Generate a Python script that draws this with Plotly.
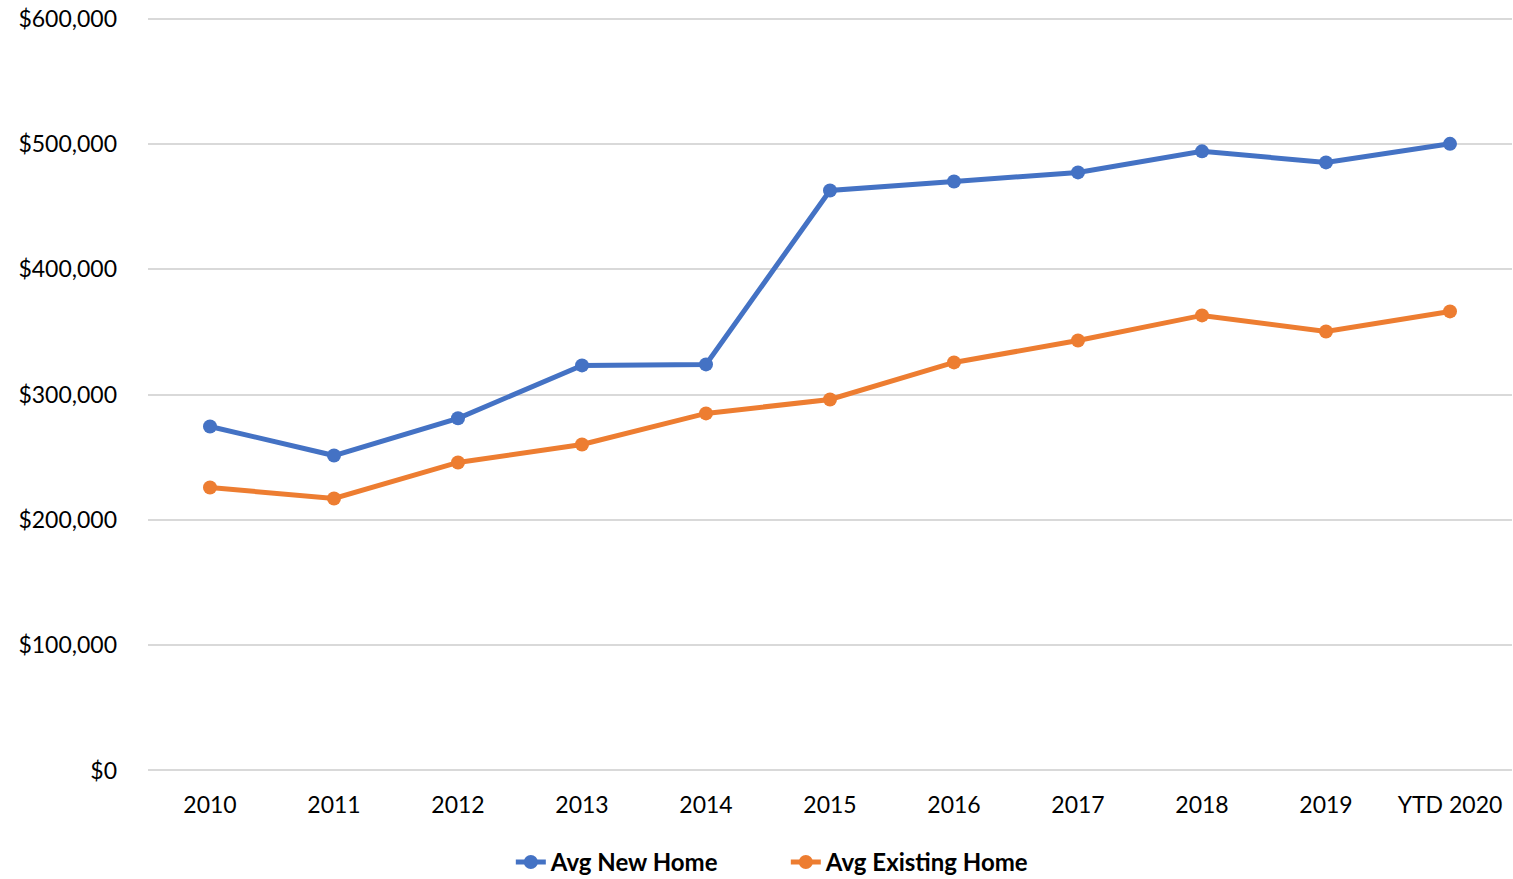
import plotly.graph_objects as go

categories = ["2010", "2011", "2012", "2013", "2014", "2015", "2016", "2017", "2018", "2019", "YTD 2020"]
avg_new_home = [274500, 251300, 281000, 323200, 324000, 462800, 470000, 477200, 494000, 485200, 500000]
avg_existing_home = [225800, 217000, 245800, 260100, 284900, 296000, 325600, 343100, 363100, 350300, 366300]
y_ticks = [0, 100000, 200000, 300000, 400000, 500000, 600000]
y_tick_labels = ["$0", "$100,000", "$200,000", "$300,000", "$400,000", "$500,000", "$600,000"]

font_family = "Lato, 'Noto Sans', sans-serif"

fig = go.Figure()
fig.add_trace(go.Scatter(
    x=categories, y=avg_new_home, mode="lines+markers", name="Avg New Home",
    line=dict(color="#4472C4", width=5), marker=dict(size=14, color="#4472C4"),
))
fig.add_trace(go.Scatter(
    x=categories, y=avg_existing_home, mode="lines+markers", name="Avg Existing Home",
    line=dict(color="#ED7D31", width=5), marker=dict(size=14, color="#ED7D31"),
))

fig.update_layout(
    width=1513, height=879,
    margin=dict(l=148, r=1, t=16, b=106, autoexpand=False),
    paper_bgcolor="white", plot_bgcolor="white",
    font=dict(family=font_family, size=23, color="#000000"),
    showlegend=True,
    legend=dict(
        orientation="h", x=0.266, xanchor="left", y=-0.118, yanchor="middle",
        font=dict(family=font_family, size=24, color="#000000", weight="bold"),
        tracegroupgap=0, entrywidth=230, entrywidthmode="pixels",
    ),
    xaxis=dict(
        type="category", range=[-0.5, 10.5], showgrid=False, showline=False,
        zeroline=False, ticks="", tickfont=dict(size=23), ticklabelstandoff=16,
    ),
    yaxis=dict(
        range=[-2000, 602000], tickvals=y_ticks, ticktext=y_tick_labels,
        showgrid=True, gridcolor="#D9D9D9", gridwidth=1.5, zeroline=False,
        showline=False, ticks="", tickfont=dict(size=23), ticklabelstandoff=30,
    ),
)

post = (
    "document.body.style.margin='0';"
    "document.body.style.overflow='hidden';"
)
fig.write_html("out.html", post_script=post, config={"displayModeBar": False})
